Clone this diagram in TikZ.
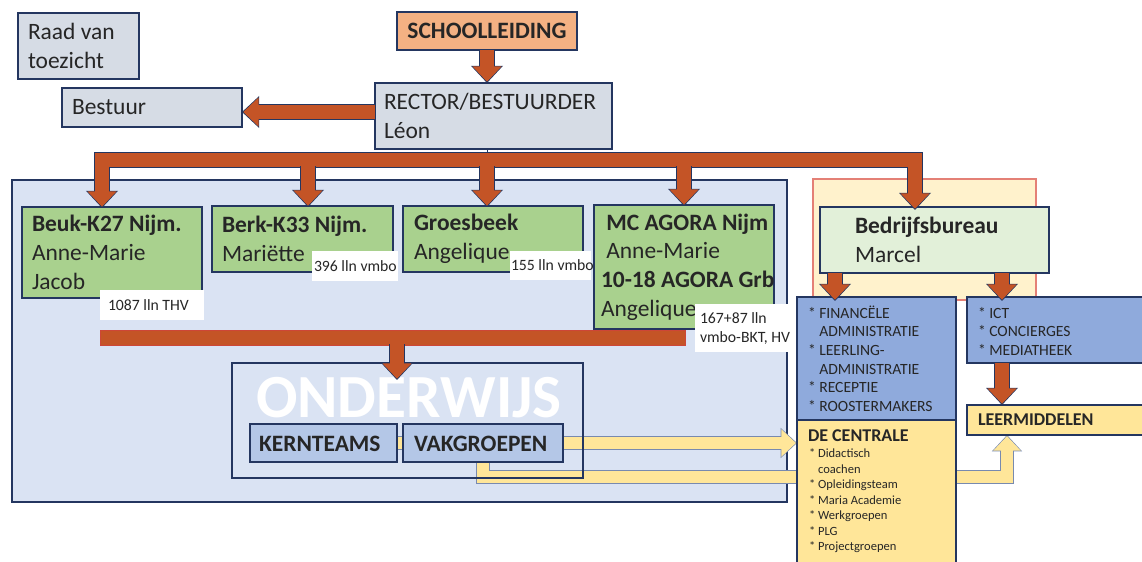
\documentclass[tikz,border=0pt]{standalone}
\usepackage{fontspec}
\setmainfont{Carlito}
\usetikzlibrary{arrows.meta,calc}
\definecolor{navy}{RGB}{36,54,96}
\definecolor{grayblue}{RGB}{214,220,229}
\definecolor{peach}{RGB}{244,177,131}
\definecolor{arrowor}{RGB}{196,84,38}
\definecolor{grn}{RGB}{169,209,142}
\definecolor{lightbg}{RGB}{218,227,243}
\definecolor{lyel}{RGB}{255,242,204}
\definecolor{lgrn}{RGB}{226,240,217}
\definecolor{mblue}{RGB}{143,170,220}
\definecolor{kblue}{RGB}{180,199,231}
\definecolor{yel}{RGB}{255,230,153}
\definecolor{pinkred}{RGB}{228,128,118}
\definecolor{barred}{RGB}{205,70,55}
\definecolor{ink}{RGB}{38,38,38}
\definecolor{yline}{RGB}{120,138,175}
\pgfdeclarelayer{bglayer}
\pgfdeclarelayer{midlayer}
\pgfsetlayers{bglayer,midlayer,main}
\begin{document}
\begin{tikzpicture}[x=0.75pt,y=-0.75pt,
 box/.style={draw=navy,line width=0.9pt,inner sep=0pt,outer sep=0pt,anchor=north west},
 sz/.style 2 args={minimum width=#1*0.75pt,minimum height=#2*0.75pt},
 tx/.style={inner sep=0pt,outer sep=0pt,align=left,text=ink},
 big/.style={tx,font=\fontsize{17.6}{21.5}\selectfont},
 bigb/.style={tx,font=\fontsize{17.6}{21.5}\selectfont\bfseries},
 lab/.style={tx,font=\fontsize{11.8}{14.3}\selectfont},
 lst/.style={tx,font=\fontsize{11.7}{14}\selectfont},
 tiny/.style={tx,font=\fontsize{9.4}{11.6}\selectfont},
 hdr/.style={tx,font=\fontsize{13.5}{16}\selectfont\bfseries},
 wbox/.style={fill=white,draw=none,inner sep=0pt,outer sep=0pt,anchor=north west},
 blk/.style={line width=10.5pt,draw=arrowor,line join=miter,-{Triangle[width=21pt,length=11.5pt]},shorten >=0.9pt,
   preaction={draw=navy,line width=12pt,-{Triangle[width=23.2pt,length=12.9pt]},shorten >=0pt}},
 yarr/.style={line width=9pt,draw=yel,line join=miter,-{Triangle[width=20pt,length=11pt]},shorten >=0.8pt,
   preaction={draw=yline,line width=10.4pt,-{Triangle[width=22pt,length=12.3pt]},shorten >=0pt}},
 ybar/.style={line width=9pt,draw=yel,preaction={draw=yline,line width=10.4pt}}
]
\useasboundingbox (0,0) rectangle (1142,561);

\begin{pgfonlayer}{bglayer}
\node[box,fill=lightbg,sz={775}{322}] (region) at (12,180) {};
\node[box,draw=pinkred,fill=lyel,sz={223}{121}] (bbreg) at (813,179) {};
\end{pgfonlayer}

% top
\node[box,fill=grayblue,sz={121}{66}] (raad) at (18,13) {};
\node[big,anchor=west] (raadT) at ($(raad.west)+(10,0)$) {Raad van\\toezicht};
\node[box,fill=grayblue,sz={180}{39}] (bestuur) at (62,88) {};
\node[big,anchor=west] (bestuurT) at ($(bestuur.west)+(10,0)$) {Bestuur};
\node[box,fill=peach,sz={180}{38}] (school) at (397,12) {};
\node[bigb] (schoolT) at (school.center) {SCHOOLLEIDING};
\node[box,fill=grayblue,sz={237}{66}] (rector) at (375,83) {};
\node[big,anchor=west] (rectorT) at ($(rector.west)+(9,0)$) {RECTOR/BESTUURDER\\Léon};

% schools
\node[box,fill=grn,sz={180}{91}] (beuk) at (22,207) {};
\node[big,anchor=west] (beukT) at ($(beuk.west)+(10,0)$) {{\bfseries Beuk-K27 Nijm.}\\Anne-Marie\\Jacob};
\node[box,fill=grn,sz={181}{66}] (berk) at (212,206) {};
\node[big,anchor=west] (berkT) at ($(berk.west)+(10,0)$) {{\bfseries Berk-K33 Nijm.}\\Mariëtte};
\node[box,fill=grn,sz={180}{66}] (groes) at (403,206) {};
\node[big,anchor=west] (groesT) at ($(groes.west)+(11,0)$) {{\bfseries Groesbeek}\\Angelique};
\node[box,fill=grn,sz={180}{124}] (agora) at (594,205) {};
\node[big,anchor=west] (agoraT) at ($(agora.west)+(7,0)$) {{\bfseries\ MC AGORA Nijm}\\\ Anne-Marie\\{\bfseries 10-18 AGORA Grb}\\Angelique};

% bedrijfsbureau
\node[box,fill=lgrn,line width=1.5pt,sz={229}{66}] (bedrijf) at (820,207) {};
\node[big,anchor=west] (bedrijfT) at ($(bedrijf.west)+(35,0)$) {{\bfseries Bedrijfsbureau}\\Marcel};

% student count labels
\node[wbox,sz={104}{30}] (l1) at (100,290) {};
\node[lab,anchor=west] (l1T) at ($(l1.west)+(8,0)$) {1087 lln THV};
\node[wbox,sz={86}{30}] (l2) at (312,251) {};
\node[lab,anchor=west] (l2T) at ($(l2.west)+(2,0)$) {396 lln vmbo};
\node[wbox,sz={81}{29}] (l3) at (510,251) {};
\node[lab,anchor=west] (l3T) at ($(l3.west)+(1,0)$) {155 lln vmbo};
\node[wbox,sz={102}{48}] (l4) at (695,304) {};
\node[lab,anchor=west] (l4T) at ($(l4.west)+(5,1)$) {167+87 lln\\vmbo-BKT, HV};

% collecting bar
\node[box,draw=barred,line width=0.6pt,fill=arrowor,sz={585}{15}] (bar) at (100,330) {};

% onderwijs
\node[box,sz={351}{115}] (onderwijs) at (232,363) {};
\node[tx,text=white,font=\fontsize{46}{46}\selectfont\bfseries,anchor=base] (owT) at (409,417) {ONDERWIJS};
\node[box,fill=kblue,sz={147}{38}] (kern) at (250,424) {};
\node[bigb,anchor=west] (kernT) at ($(kern.west)+(9,1)$) {KERNTEAMS};
\node[box,fill=kblue,sz={160}{38}] (vak) at (403,424) {};
\node[bigb,anchor=west] (vakT) at ($(vak.west)+(11,1)$) {VAKGROEPEN};

% right column
\node[box,fill=mblue,sz={159}{123}] (fin) at (797,297) {};
\node[lst,anchor=north west] (finT) at ($(fin.north west)+(11,8)$) {\strut* FINANCËLE\\\phantom{*} ADMINISTRATIE\\* LEERLING-\\\phantom{*} ADMINISTRATIE\\* RECEPTIE\\* ROOSTERMAKERS};
\node[box,fill=mblue,sz={180}{66}] (ict) at (967,297) {};
\node[lst,anchor=north west] (ictT) at ($(ict.north west)+(11,8)$) {\strut* ICT\\* CONCIERGES\\* MEDIATHEEK};
\node[box,fill=yel,sz={159}{150}] (cen) at (797,420) {};
\node[hdr,anchor=north west] (cenH) at ($(cen.north west)+(11,7)$) {\strut DE CENTRALE};
\node[tiny,anchor=north west] (cenT) at ($(cen.north west)+(12,27)$) {\strut* Didactisch\\\phantom{*} coachen\\* Opleidingsteam\\* Maria Academie\\* Werkgroepen\\* PLG\\* Projectgroepen};
\node[box,fill=yel,sz={180}{30}] (lm) at (967,405) {};
\node[hdr,anchor=west] (lmT) at ($(lm.west)+(11,0)$) {LEERMIDDELEN};

% yellow connectors
\begin{pgfonlayer}{midlayer}
\draw[ybar] (kern.east) -- (vak.west);
\draw[yarr] (vak.east) -- (vak.east -| cen.west);
\draw[yarr] (vak.south) |- ($(lm.south west)+(40,42)$) -- ($(lm.south west)+(40,0)$);
\end{pgfonlayer}

% orange connectors
\draw[blk] (school.south) -- (school.south |- rector.north);
\draw[blk] ($(rector.west)+(0,-4)$) -- ($(rector.west -| bestuur.east)+(0,-4)$);
\coordinate (hub) at ($(rector.south)+(-6.5,11)$);
\draw[navy,line width=0.75pt] (rector.south -| hub) -- (hub);
\draw[blk] (hub) -| ($(beuk.north west)+(80,1)$);
\draw[blk] (hub) -| ($(bedrijf.north west)+(95,3)$);
\draw[blk] ($(hub -| berk.north)+(5.5,6)$) -- ($(berk.north)+(5.5,1)$);
\draw[blk] ($(hub)+(0,6)$) -- ($(hub |- groes.north)+(0,1)$);
\draw[blk] ($(hub -| agora.north)+(0,6)$) -- ($(agora.north)+(0,1)$);
\draw[blk] ($(bar.south -| kern.east)+(0,-1)$) -- ($(onderwijs.north -| kern.east)+(0,17)$);
\draw[blk] ($(bedrijf.south west)+(15,0)$) -- ($(fin.north west)+(38,4)$);
\draw[blk] ($(bedrijf.south west)+(182,0)$) -- ($(ict.north west)+(35,4)$);
\draw[blk] ($(ict.south west)+(35,0)$) -- ($(lm.north west)+(35,0)$);
\end{tikzpicture}
\end{document}
